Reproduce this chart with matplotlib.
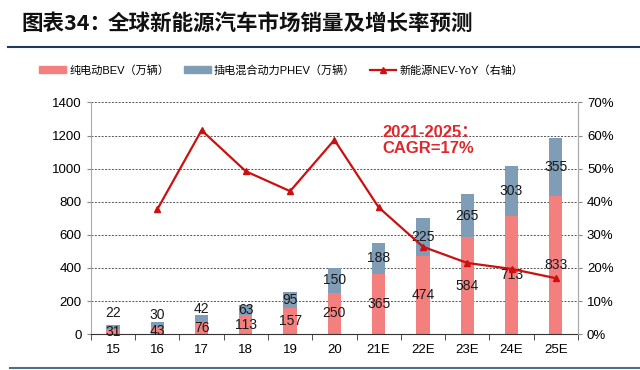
import matplotlib.pyplot as plt
import numpy as np
from matplotlib.lines import Line2D
from matplotlib.patches import Patch

plt.rcParams['font.family'] = ['Liberation Sans', 'Noto Sans CJK SC', 'DejaVu Sans']

years = ['15', '16', '17', '18', '19', '20', '21E', '22E', '23E', '24E', '25E']
bev = [31, 43, 76, 113, 157, 250, 365, 474, 584, 713, 833]
phev = [22, 30, 42, 63, 95, 150, 188, 225, 265, 303, 355]
yoy = [np.nan, 37.7, 61.6, 49.2, 43.2, 58.7, 38.3, 26.4, 21.5, 19.7, 16.9]

bev_color = '#F47F7F'
phev_color = '#7F9DB6'
line_color = '#CC1010'
grid_color = '#555555'

fig = plt.figure(figsize=(6.4, 3.7), dpi=100)
ax = fig.add_axes([0.142, 0.097, 0.761, 0.626])
ax2 = ax.twinx()

x = np.arange(len(years))
ax.bar(x, bev, width=0.3, color=bev_color, zorder=2)
ax.bar(x, phev, width=0.3, bottom=bev, color=phev_color, zorder=2)

ax.set_ylim(0, 1400)
ax.set_yticks(range(0, 1401, 200))
ax.set_xlim(-0.5, len(years) - 0.5)
ax.set_xticks(x)
ax.set_xticklabels(years)
ax.set_xticks(np.arange(-0.5, len(years), 1), minor=True)
ax.tick_params(axis='x', which='major', length=0, pad=7, labelsize=9.5)
ax.tick_params(axis='x', which='minor', length=4, direction='out', color='#333333')
ax.tick_params(axis='y', length=3, labelsize=9.5, color='#888888')
ax.yaxis.grid(True, linestyle=(0, (2, 1.5)), color=grid_color, linewidth=0.7, zorder=0)
ax.set_axisbelow(True)

for s in ['top']:
    ax.spines[s].set_visible(False)
    ax2.spines[s].set_visible(False)
ax.spines['bottom'].set_color('#333333')
ax.spines['left'].set_color('#AAAAAA')
ax.spines['right'].set_color('#AAAAAA')
ax2.spines['right'].set_color('#AAAAAA')
ax2.spines['left'].set_visible(False)
ax2.spines['bottom'].set_visible(False)

ax2.plot(x, yoy, color=line_color, linewidth=1.6, marker='^', markersize=4, zorder=3)
ax2.set_ylim(0, 70)
ax2.set_yticks(range(0, 71, 10))
ax2.set_yticklabels([f'{v}%' for v in range(0, 71, 10)])
ax2.tick_params(axis='y', length=3, labelsize=9.5, color='#888888')

# data labels (first three PHEV labels sit above their bars)
phev_label_y = {0: 127, 1: 115, 2: 152}
for i in range(len(years)):
    ax.text(x[i], bev[i] / 2, str(bev[i]), ha='center', va='center',
            fontsize=10, color='#1A1A1A', zorder=4)
    py = phev_label_y.get(i, bev[i] + phev[i] / 2)
    ax.text(x[i], py, str(phev[i]), ha='center', va='center',
            fontsize=10, color='#1A1A1A', zorder=4)

ax.text(0.598, 0.905, '2021-2025：\nCAGR=17%', transform=ax.transAxes,
        ha='left', va='top', fontsize=12, fontweight='bold', color='#E0282C',
        linespacing=1.15, family=['Liberation Sans', 'Noto Sans CJK SC'])

# title
fig.text(0.033, 0.918, '图表34：', fontsize=15.5, fontweight='bold',
         family=['Noto Sans CJK SC'], color='#111111')
fig.text(0.168, 0.918, '全球新能源汽车市场销量及增长率预测', fontsize=15.5,
         fontweight='bold', family=['Noto Sans CJK SC'], color='#111111')
fig.add_artist(Line2D([0.012, 1.0], [0.872, 0.872], color='#1F3A5F', linewidth=1.5))
fig.add_artist(Line2D([0.015, 1.0], [0.006, 0.006], color='#4A6F8F', linewidth=1.5))

handles = [Patch(color=bev_color), Patch(color=phev_color),
           Line2D([], [], color=line_color, marker='^', markersize=4, linewidth=1.6)]
labels = ['纯电动BEV（万辆）', '插电混合动力PHEV（万辆）', '新能源NEV-YoY（右轴）']
fig.legend(handles, labels, loc='center', bbox_to_anchor=(0.44, 0.81), ncol=3,
           frameon=False, handlelength=2.4, handleheight=0.6,
           columnspacing=1.3, handletextpad=0.3,
           prop={'family': ['Liberation Sans', 'Noto Sans CJK SC'], 'size': 8})

fig.savefig('out.png', dpi=100)
